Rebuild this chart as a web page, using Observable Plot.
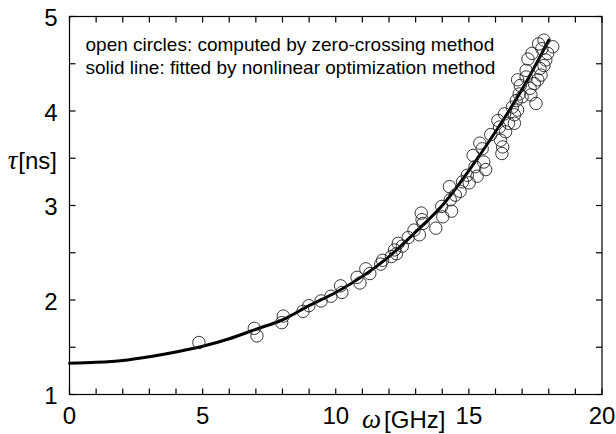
<!DOCTYPE html>
<html>
<head>
<meta charset="utf-8">
<script src="https://cdn.jsdelivr.net/npm/d3@7"></script>
<script src="https://cdn.jsdelivr.net/npm/@observablehq/plot@0.6"></script>
<style>
  html, body { margin: 0; padding: 0; background: #fff; }
  #chart { width: 616px; height: 434px; }
</style>
</head>
<body>
<div id="chart"></div>
<script>
// Measured points (open circles): omega [GHz], tau [ns]
const omega = [4.86, 6.94, 7.04, 8.03, 7.97, 8.77, 8.99, 9.45, 9.82, 10.18, 10.23, 10.80, 10.91, 11.13, 11.28,
  11.69, 11.76, 12.09, 12.21, 12.28, 12.35, 12.50, 12.72, 12.94, 13.14, 13.21, 13.24, 13.28, 13.76, 13.98,
  14.02, 14.27, 14.30, 14.35, 14.49, 14.67, 14.76, 14.94, 15.01, 15.16, 15.23, 15.31, 15.41, 15.50, 15.56,
  15.63, 15.82, 16.09, 16.15, 16.19, 16.27, 16.24, 16.34, 16.38, 16.49, 16.63, 16.71, 16.78, 16.83, 16.89,
  16.71, 16.83, 16.93, 17.00, 17.15, 17.30, 17.33, 17.15, 17.22, 17.37, 17.52, 17.59, 17.67, 17.62, 17.82,
  17.74, 17.71, 17.89, 17.96, 18.15, 17.46, 17.82];
const tau = [1.55, 1.70, 1.62, 1.83, 1.76, 1.88, 1.94, 1.99, 2.04, 2.15, 2.08, 2.24, 2.18, 2.33, 2.28,
  2.38, 2.42, 2.46, 2.53, 2.49, 2.60, 2.57, 2.66, 2.74, 2.69, 2.92, 2.85, 2.81, 2.76, 2.99,
  2.88, 3.20, 3.06, 2.94, 3.11, 3.15, 3.25, 3.32, 3.24, 3.53, 3.41, 3.31, 3.66, 3.60, 3.46,
  3.38, 3.75, 3.90, 3.83, 3.69, 3.62, 3.55, 3.97, 3.78, 3.87, 4.04, 3.96, 4.11, 4.01, 4.18,
  3.87, 4.33, 4.27, 4.15, 4.36, 4.24, 4.17, 4.43, 4.55, 4.61, 4.08, 4.33, 4.45, 4.71, 4.75,
  4.66, 4.38, 4.54, 4.61, 4.68, 4.29, 4.48];

// Fitted curve (solid line)
const fitOmega = [0, 1, 2, 3, 4, 5, 6, 7, 8, 9, 10, 11, 12, 13, 14, 15, 16, 17, 18];
const fitTau = [1.33, 1.34, 1.36, 1.40, 1.45, 1.51, 1.59, 1.69, 1.79, 1.94, 2.08, 2.25, 2.46, 2.72, 3.00, 3.37, 3.78, 4.23, 4.75];

// Axis ticks
const xLabelTicks = [0, 5, 10, 15, 20];
const yLabelTicks = [1, 2, 3, 4, 5];
const xMinorTicks = [0, 1, 2, 3, 4, 5, 6, 7, 8, 9, 10, 11, 12, 13, 14, 15, 16, 17, 18, 19, 20];
const yMinorTicks = [1, 1.5, 2, 2.5, 3, 3.5, 4, 4.5, 5];

const legendLine1 = "open circles: computed by zero-crossing method";
const legendLine2 = "solid line: fitted by nonlinear optimization method";

const points = omega.map((w, i) => ({w, t: tau[i]}));
const fit = fitOmega.map((w, i) => ({w, t: fitTau[i]}));

const W = 616, H = 434;
const mL = 69, mR = 14.5, mT = 16, mB = 40;
const tl = 6;
const sans = "'Liberation Sans', Arial, sans-serif";
const serif = "'Liberation Serif', 'DejaVu Serif', serif";
const ph = H - mT - mB, pw = W - mL - mR;
const xDomain = [0, 20], yDomain = [1, 5];

// tick length converted to data units so the ticks go through the x/y scales
const dxT = tl * (xDomain[1] - xDomain[0]) / pw;
const dyT = tl * (yDomain[1] - yDomain[0]) / ph;
const tickSegs = [
  ...xMinorTicks.map(v => ({x1: v, x2: v, y1: yDomain[0], y2: yDomain[0] + dyT})),
  ...xMinorTicks.map(v => ({x1: v, x2: v, y1: yDomain[1], y2: yDomain[1] - dyT})),
  ...yMinorTicks.map(v => ({x1: xDomain[0], x2: xDomain[0] + dxT, y1: v, y2: v})),
  ...yMinorTicks.map(v => ({x1: xDomain[1], x2: xDomain[1] - dxT, y1: v, y2: v}))
];

const chart = Plot.plot({
  width: W, height: H,
  marginLeft: mL, marginRight: mR, marginTop: mT, marginBottom: mB,
  style: {fontFamily: sans, background: "#fff", color: "#000"},
  x: {domain: xDomain},
  y: {domain: yDomain},
  marks: [
    Plot.line(fit, {x: "w", y: "t", stroke: "#000", strokeWidth: 3, curve: "catmull-rom"}),
    Plot.dot(points, {x: "w", y: "t", r: 6.2, stroke: "#222", strokeWidth: 0.9, fill: "none"}),
    Plot.frame({stroke: "#000", strokeWidth: 1.2}),
    Plot.link(tickSegs, {x1: "x1", y1: "y1", x2: "x2", y2: "y2", stroke: "#000", strokeWidth: 1.2}),
    // tick labels
    Plot.axisX({anchor: "bottom", ticks: xLabelTicks, tickSize: 0, tickPadding: 12, label: null, fontSize: 24, tickFormat: d3.format("d")}),
    Plot.axisY({anchor: "left", ticks: yLabelTicks, tickSize: 0, tickPadding: 12, label: null, fontSize: 24, tickFormat: d3.format("d"), dy: 2}),
    // legend text
    Plot.text([legendLine1], {frameAnchor: "top-left", dx: 16, dy: 34, text: d => d, fontSize: 19, textAnchor: "start", lineAnchor: "bottom", fill: "#000"}),
    Plot.text([legendLine2], {frameAnchor: "top-left", dx: 16, dy: 57, text: d => d, fontSize: 19, textAnchor: "start", lineAnchor: "bottom", fill: "#000"})
  ]
});

document.getElementById("chart").appendChild(chart);

const svg = d3.select(chart);

// Axis titles with mixed fonts (Greek symbol in italic serif)
const xt = svg.append("text")
  .attr("x", 362).attr("y", 428)
  .attr("text-anchor", "start").attr("fill", "#000");
xt.append("tspan").attr("font-family", serif).attr("font-style", "italic").attr("font-size", 27).text("ω");
xt.append("tspan").attr("font-family", sans).attr("font-size", 24).attr("dx", 3).text("[GHz]");

const yt = svg.append("text")
  .attr("x", mL - 12).attr("y", 169)
  .attr("text-anchor", "end").attr("fill", "#000");
yt.append("tspan").attr("font-family", serif).attr("font-style", "italic").attr("font-size", 27).text("τ");
yt.append("tspan").attr("font-family", sans).attr("font-size", 24).attr("dx", 1).text("[ns]");
</script>
</body>
</html>
